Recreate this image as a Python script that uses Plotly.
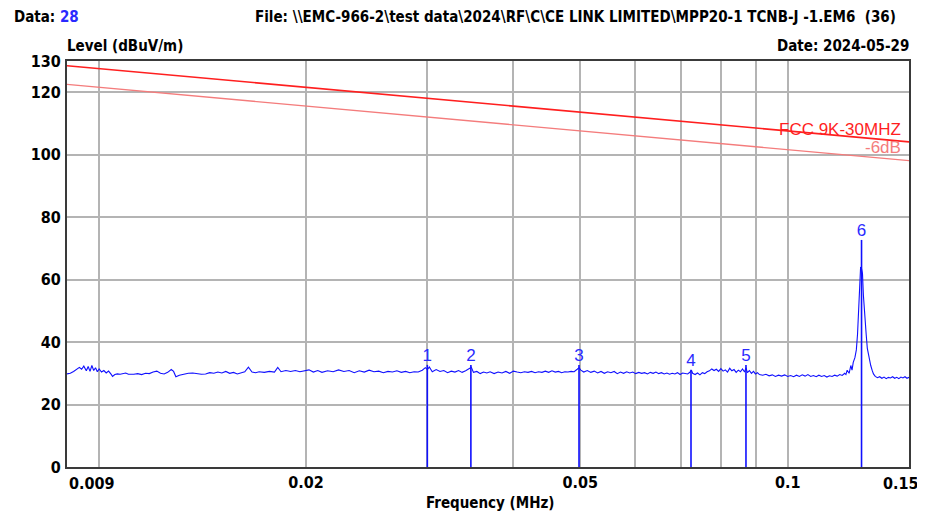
import plotly.graph_objects as go

# ---------------- data ----------------
freq_khz = [
    9.00, 9.10, 9.20, 9.30, 9.38, 9.45, 9.52, 9.60, 9.66, 9.72, 9.78, 9.84, 9.90, 9.96,
    10.02, 10.10, 10.18, 10.26, 10.34, 10.42, 10.48, 10.56, 10.65, 10.75, 10.85, 10.95,
    11.05, 11.15, 11.25, 11.40, 11.55, 11.70, 11.85, 12.00, 12.15, 12.30, 12.45, 12.60,
    12.75, 12.85, 12.95, 13.10, 13.30, 13.50, 13.70, 13.90, 14.10, 14.30, 14.50, 14.70,
    14.90, 15.10, 15.30, 15.50, 15.70, 15.90, 16.10, 16.30, 16.50, 16.70, 16.90, 17.10,
    17.40, 17.70, 18.00, 18.20, 18.40, 18.70, 19.00, 19.30, 19.60, 19.90, 20.20, 20.50,
    20.80, 21.10, 21.50, 21.90, 22.30, 22.70, 23.10, 23.50, 23.90, 24.30, 24.70, 25.10,
    25.50, 25.90, 26.30, 26.70, 27.10, 27.50, 27.90, 28.30, 28.70, 29.10, 29.50, 29.80,
    30.00, 30.20, 30.50, 30.90, 31.30, 31.70, 32.10, 32.50, 32.90, 33.30, 33.70, 34.10,
    34.50, 34.75, 35.00, 35.40, 35.80, 36.20, 36.60, 37.00, 37.50, 38.00, 38.50, 39.00,
    39.50, 40.00, 40.50, 41.00, 41.50, 42.00, 42.50, 43.00, 43.50, 44.00, 44.50, 45.00,
    45.50, 46.00, 46.50, 47.00, 47.50, 48.00, 48.50, 49.00, 49.50, 49.80, 50.10, 50.60,
    51.20, 51.80, 52.40, 53.00, 53.60, 54.20, 54.80, 55.40, 56.00, 56.60, 57.20, 57.80,
    58.40, 59.00, 59.60, 60.20, 60.80, 61.40, 62.00, 62.60, 63.20, 63.80, 64.40, 65.00,
    65.60, 66.20, 66.80, 67.40, 68.00, 68.60, 69.20, 69.80, 70.40, 71.00, 71.60, 72.20,
    72.50, 72.80, 73.40, 74.00, 74.60, 75.20, 75.80, 76.40, 77.00, 77.60, 78.20, 78.80,
    79.40, 80.00, 80.60, 81.20, 81.80, 82.40, 83.00, 83.60, 84.20, 84.80, 85.40, 86.00,
    86.60, 87.00, 87.40, 88.00, 88.60, 89.20, 89.80, 90.40, 91.00, 92.00, 93.00, 94.00,
    95.00, 96.00, 97.00, 98.00, 99.00, 100.0, 101.0, 102.0, 103.0, 104.0, 105.0, 106.0,
    107.0, 108.0, 109.0, 110.0, 111.0, 112.0, 113.0, 114.0, 115.0, 116.0, 117.0, 118.0,
    119.0, 120.0, 121.0, 121.5, 122.0, 122.8, 123.5, 124.0, 124.5, 125.2, 125.8, 126.3,
    126.7, 127.2, 127.6, 128.0, 128.4, 128.8, 129.2, 129.6, 130.0, 130.5, 131.0, 131.5,
    132.0, 132.6, 133.2, 134.0, 135.0, 136.0, 137.0, 138.0, 139.0, 140.0, 141.0, 142.0,
    143.0, 144.0, 145.0, 146.0, 147.0, 148.0, 149.0, 150.0,
]
level_dbuv = [
    29.8, 30.0, 30.6, 31.2, 31.9, 31.3, 32.3, 30.8, 32.2, 30.6, 32.5, 30.9, 31.8, 30.5,
    31.4, 30.4, 30.9, 30.1, 30.7, 29.8, 29.0, 29.6, 29.8, 29.7, 30.0, 30.1,
    29.7, 29.6, 29.7, 29.9, 29.6, 30.0, 29.9, 30.4, 30.7, 30.0, 29.8, 30.3,
    31.2, 30.6, 28.9, 29.4, 29.8, 30.0, 30.1, 29.9, 29.7, 29.8, 30.2, 30.0,
    30.4, 30.1, 30.6, 30.0, 30.3, 29.8, 30.1, 30.5, 32.0, 30.4, 30.2, 30.5,
    30.3, 30.6, 30.4, 31.9, 30.5, 30.9, 30.6, 30.9, 30.5, 30.7, 31.1, 30.4,
    30.9, 30.3, 30.8, 30.5, 31.1, 30.6, 30.9, 30.2, 30.8, 30.4, 31.0, 30.5,
    30.7, 30.2, 30.6, 30.4, 30.8, 30.3, 30.6, 30.2, 30.5, 30.4, 31.0, 31.8,
    31.2, 32.0, 30.5, 31.2, 30.6, 30.9, 30.2, 30.7, 30.4, 30.9, 30.3, 30.8,
    31.4, 31.9, 30.3, 30.6, 29.9, 30.4, 30.1, 30.5, 29.9, 30.4, 30.1, 30.6,
    30.0, 30.7, 30.4, 30.2, 30.5, 30.3, 30.6, 30.2, 30.5, 30.3, 30.7, 30.3,
    30.8, 30.4, 30.6, 30.2, 30.5, 30.4, 30.6, 30.5, 31.3, 31.8, 31.0, 30.4,
    30.9, 30.3, 30.7, 30.1, 30.6, 30.0, 30.5, 30.2, 30.6, 29.9, 30.4, 30.0,
    30.5, 30.1, 30.4, 29.9, 30.3, 30.0, 30.2, 29.8, 30.3, 30.0, 30.4, 29.9,
    30.2, 29.8, 30.1, 29.7, 30.0, 29.8, 30.2, 29.6, 30.1, 30.0, 29.8, 30.4,
    31.0, 30.0, 29.6, 30.1, 29.5, 30.2, 29.9, 30.5, 30.8, 31.4, 30.9, 31.3,
    30.6, 31.5, 30.7, 31.1, 30.4, 31.6, 30.8, 31.2, 30.3, 31.0, 30.5, 31.4,
    30.4, 31.8, 30.2, 30.9, 30.0, 30.6, 29.8, 30.2, 29.6, 29.4, 29.7, 29.2,
    29.5, 29.0, 29.4, 29.1, 29.5, 29.0, 29.3, 28.9, 29.4, 29.0, 29.5, 29.1,
    29.6, 29.0, 29.3, 28.9, 29.4, 29.0, 29.3, 28.8, 29.2, 29.0, 29.4, 29.1,
    29.6, 29.3, 30.0, 29.6, 31.0, 30.0, 32.5, 31.0, 33.5, 35.0, 37.5, 42.5,
    50.0, 55.0, 64.0, 63.5, 62.0, 55.0, 50.0, 46.0, 42.5, 38.0, 36.0, 34.0,
    32.5, 31.0, 29.8, 29.0, 28.6, 28.9, 28.4, 28.8, 28.3, 28.7, 28.5, 28.9,
    28.4, 28.7, 28.3, 28.8, 28.5, 28.9, 28.4, 28.7,
]

limit_freq_mhz = [0.009, 0.15]
limit_fcc = [128.5, 104.1]
limit_6db = [122.5, 98.1]

marker_ids = ["1", "2", "3", "4", "5", "6"]
marker_freq_mhz = [0.0300, 0.0347, 0.0498, 0.0724, 0.0870, 0.1280]
marker_level = [32.7, 32.7, 32.7, 31.1, 32.7, 72.7]

x_tickvals = [0.009, 0.01, 0.02, 0.03, 0.04, 0.05, 0.06, 0.07, 0.08, 0.09, 0.1, 0.15]
x_ticktext = ["", "", "0.02", "", "", "0.05", "", "", "", "", "0.1", ""]
y_tickvals = [0, 20, 40, 60, 80, 100, 120, 130]

FONT = "DejaVu Sans Condensed, Liberation Sans Narrow, Arial Narrow, sans-serif"
ARIAL = "Liberation Sans, Arial, sans-serif"

freq_mhz = [f / 1000 for f in freq_khz]

# the page body has an 8px margin; plot area should land at page x 67..909, y 61..467
OFF = 8
PL, PR, PT, PB = 67, 909, 61, 467          # plot area in page pixels
W, H = 925 - OFF, 515 - OFF
PW, PH = PR - PL, PB - PT

fig = go.Figure()

# limit lines
fig.add_trace(go.Scatter(x=limit_freq_mhz, y=limit_6db, mode="lines",
                         line=dict(color="#f47c7c", width=1.3), hoverinfo="skip"))
fig.add_trace(go.Scatter(x=limit_freq_mhz, y=limit_fcc, mode="lines",
                         line=dict(color="#ff1f1f", width=1.6), hoverinfo="skip"))

# measurement trace
fig.add_trace(go.Scatter(x=freq_mhz, y=level_dbuv, mode="lines",
                         line=dict(color="#1010ff", width=1.1)))

# marker lines
mx, my = [], []
for f, lv in zip(marker_freq_mhz, marker_level):
    mx += [f, f, None]
    my += [0, lv, None]
fig.add_trace(go.Scatter(x=mx, y=my, mode="lines",
                         line=dict(color="#1010ff", width=1.6), hoverinfo="skip"))
fig.add_trace(go.Scatter(x=marker_freq_mhz, y=marker_level, mode="text",
                         text=marker_ids, textposition="top center",
                         textfont=dict(family=ARIAL, size=17, color="#2a2aff")))

tick_font = dict(family=FONT, size=16, color="black", weight="bold")
fig.update_layout(
    width=W, height=H,
    margin=dict(l=PL - OFF, r=925 - PR, t=PT - OFF, b=515 - PB, autoexpand=False),
    paper_bgcolor="white", plot_bgcolor="white",
    showlegend=False,
    font=dict(family=FONT, size=16, color="black"),
    xaxis=dict(type="log", range=[-2.0457575, -0.8239087], automargin=False,
               tickvals=x_tickvals, ticktext=x_ticktext,
               showgrid=True, gridcolor="#b4b4b4", gridwidth=1.5,
               showline=True, linecolor="#3a3a3a", linewidth=2, mirror=True,
               ticks="", zeroline=False, tickfont=tick_font),
    yaxis=dict(range=[0, 130], tickvals=y_tickvals, automargin=False,
               showgrid=True, gridcolor="#b4b4b4", gridwidth=1.5,
               showline=True, linecolor="#3a3a3a", linewidth=2, mirror=True,
               ticks="", zeroline=False, ticklabelstandoff=1,
               tickfont=tick_font),
)


def px(xp):
    return (xp - PL) / PW


def py(yp):
    return (PB - yp) / PH


ann_font = dict(family=FONT, size=15, color="black", weight="bold")
fig.add_annotation(text="Data: <span style='color:#2a2aff'>28</span>", xref="paper", yref="paper",
                   x=px(12), y=py(17), xanchor="left", yanchor="middle",
                   showarrow=False, font=ann_font)
fig.add_annotation(text="File: \\\\EMC-966-2\\test data\\2024\\RF\\C\\CE LINK LIMITED\\MPP20-1 TCNB-J -1.EM6  (36)",
                   xref="paper", yref="paper", x=px(898), y=py(17),
                   xanchor="right", yanchor="middle", showarrow=False, font=ann_font)
fig.add_annotation(text="Level (dBuV/m)", xref="paper", yref="paper", x=px(65), y=py(46),
                   xanchor="left", yanchor="middle", showarrow=False, font=ann_font)
fig.add_annotation(text="Date: 2024-05-29", xref="paper", yref="paper", x=px(911), y=py(46),
                   xanchor="right", yanchor="middle", showarrow=False, font=ann_font)
fig.add_annotation(text="Frequency (MHz)", xref="paper", yref="paper", x=px(490),
                   y=py(503), xanchor="center", yanchor="middle", showarrow=False, font=ann_font)
fig.add_annotation(text="0.009", xref="paper", yref="paper", x=px(67), y=py(483),
                   xanchor="left", yanchor="middle", showarrow=False, font=tick_font)
fig.add_annotation(text="0.15", xref="paper", yref="paper", x=px(921), y=py(483),
                   xanchor="right", yanchor="middle", showarrow=False, font=tick_font)
# limit labels
fig.add_annotation(text="FCC 9K-30MHZ", x=-0.8327, y=108.2, xanchor="right", yanchor="middle",
                   showarrow=False, font=dict(family=ARIAL, size=17, color="#ff1f1f"))
fig.add_annotation(text="-6dB", x=-0.8327, y=102.4, xanchor="right", yanchor="middle",
                   showarrow=False, font=dict(family=ARIAL, size=17, color="#f47c7c"))

fig.write_html("out.html")
